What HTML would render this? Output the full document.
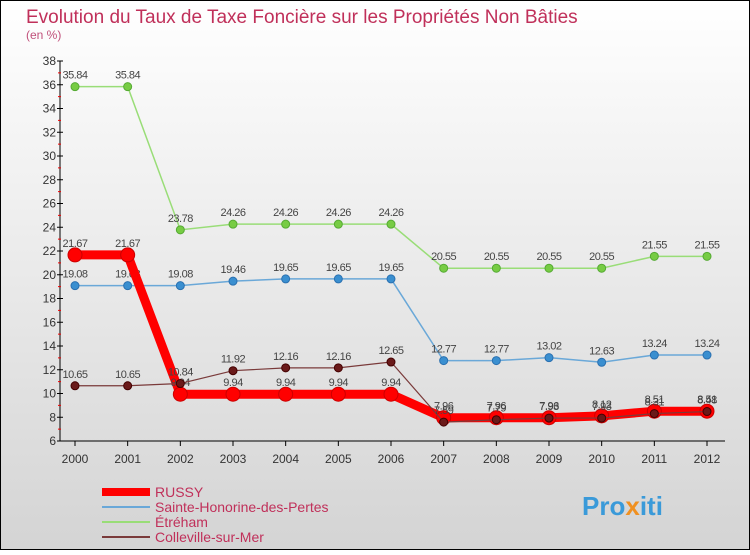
<!DOCTYPE html>
<html><head><meta charset="utf-8"><style>
body{margin:0;}
svg text{font-family:"Liberation Sans",sans-serif;}
</style></head><body>
<svg width="750" height="550" xmlns="http://www.w3.org/2000/svg">
<defs><linearGradient id="bg" x1="0" y1="0" x2="0" y2="1"><stop offset="0" stop-color="#ffffff"/><stop offset="1" stop-color="#d4d4d4"/></linearGradient></defs>
<rect x="0.5" y="0.5" width="749" height="549" fill="url(#bg)" stroke="#000"/>
<text x="26" y="23" font-size="19" fill="#c0305a">Evolution du Taux de Taxe Foncière sur les Propriétés Non Bâties</text>
<text x="26" y="39" font-size="12" fill="#c0507a">(en %)</text>
<g id="axes"></g>
<g id="series"></g>
<g id="legend"></g>
<text x="582" y="515" font-size="26" font-weight="bold" fill="#3a9ad9">Pro<tspan fill="#f09020">x</tspan>iti</text>
</svg>
<script>
const years=["2000","2001","2002","2003","2004","2005","2006","2007","2008","2009","2010","2011","2012"];
const yTicks=[6,8,10,12,14,16,18,20,22,24,26,28,30,32,34,36,38];
const russy=[21.67,21.67,9.94,9.94,9.94,9.94,9.94,7.96,7.96,7.96,8.12,8.51,8.51];
const sainte=[19.08,19.08,19.08,19.46,19.65,19.65,19.65,12.77,12.77,13.02,12.63,13.24,13.24];
const etreham=[35.84,35.84,23.78,24.26,24.26,24.26,24.26,20.55,20.55,20.55,20.55,21.55,21.55];
const colleville=[10.65,10.65,10.84,11.92,12.16,12.16,12.65,7.59,7.79,7.93,7.93,8.31,8.48];
const seriesNames=["RUSSY","Sainte-Honorine-des-Pertes","Étréham","Colleville-sur-Mer"];
const NS="http://www.w3.org/2000/svg";
const X=i=>75+i*(707-75)/12;
const Y=v=>441-(v-6)*(380/32);
function mk(t,a,p){const e=document.createElementNS(NS,t);for(const k in a)e.setAttribute(k,a[k]);p.appendChild(e);return e;}
const ax=document.getElementById('axes');
let l=mk('line',{x1:60,y1:Y(38),x2:60,y2:Y(6),stroke:'#000'},ax);


l=mk('line',{x1:60,y1:Y(6),x2:725,y2:Y(6),stroke:'#000'},ax);


yTicks.forEach(v=>{
 mk('line',{x1:57,y1:Y(v),x2:63,y2:Y(v),stroke:'#000'},ax);
 if(v<38) mk('line',{x1:58,y1:Y(v+1),x2:61,y2:Y(v+1),stroke:'#e00'},ax);
 const t=mk('text',{x:56,y:Y(v)+4,'font-size':12,'text-anchor':'end',fill:'#333'},ax);t.textContent=v;
 
 
});
years.forEach((y,i)=>{
 mk('line',{x1:X(i),y1:Y(6),x2:X(i),y2:Y(6)+5,stroke:'#000'},ax);
 const t=mk('text',{x:X(i),y:463,'font-size':12,'text-anchor':'middle',fill:'#333'},ax);t.textContent=y;
 
 
});
const sg=document.getElementById('series');
function draw(data,color,w,r,fill,stroke,name){
 const g=mk('g',{},sg);
 
 
 mk('polyline',{points:data.map((v,i)=>X(i)+','+Y(v)).join(' '),fill:'none',stroke:color,'stroke-width':w},g);
 data.forEach((v,i)=>{
  const c=mk('circle',{cx:X(i),cy:Y(v),r:r,fill:fill,stroke:stroke,'stroke-width':1},g);
  
  
  const t=mk('text',{x:X(i),y:Y(v)-8,'font-size':11,'text-anchor':'middle',fill:'#444','letter-spacing':'-0.5'},g);
  t.textContent=String(v);
  
  
 });
}
draw(etreham,'#99dd77',1.5,4,'#77cc44','#55aa33','etreham-series');
draw(sainte,'#6aa8d8',1.5,4,'#3a8fd0','#2a70b0','sainte-honorine-series');
draw(russy,'#ff0000',9,7,'#ff0000','#cc0000','russy-series');
draw(colleville,'#7a3a3a',1.2,4,'#6a1a1a','#400','colleville-series');
const lg=document.getElementById('legend');
const lc=[['#ff0000',8],['#6aa8d8',2],['#99dd77',2],['#7a3a3a',2]];
seriesNames.forEach((n,i)=>{
 const y=492+i*15;
 const g=mk('g',{},lg);
 
 
 mk('line',{x1:102,y1:y,x2:150,y2:y,stroke:lc[i][0],'stroke-width':lc[i][1]},g);
 const t=mk('text',{x:155,y:y+5,'font-size':14,fill:'#c0305a'},g);t.textContent=n;
});
</script>
</body></html>
